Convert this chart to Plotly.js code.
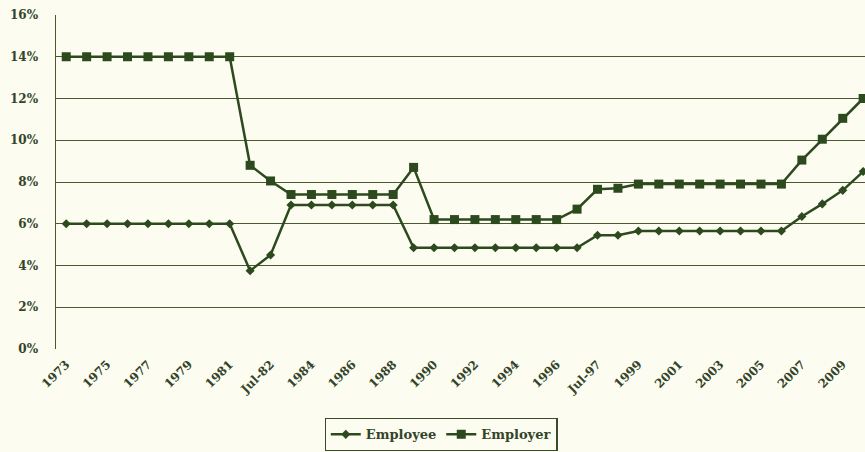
<!DOCTYPE html>
<html>
<head>
<meta charset="utf-8">
<script src="https://cdn.plot.ly/plotly-3.0.1.min.js"></script>
<style>
html,body{margin:0;padding:0;background:#fcfcf0;overflow:hidden;}
#chart{width:865px;height:452px;}
</style>
</head>
<body>
<div id="chart"></div>
<script>
const categories = ["1973","1974","1975","1976","1977","1978","1979","1980","1981","1982","Jul-82","1983","1984","1985","1986","1987","1988","1989","1990","1991","1992","1993","1994","1995","1996","1997","Jul-97","1998","1999","2000","2001","2002","2003","2004","2005","2006","2007","2008","2009","2010"];
const employee = [6,6,6,6,6,6,6,6,6,3.75,4.5,6.9,6.9,6.9,6.9,6.9,6.9,4.85,4.85,4.85,4.85,4.85,4.85,4.85,4.85,4.85,5.45,5.45,5.65,5.65,5.65,5.65,5.65,5.65,5.65,5.65,6.35,6.95,7.6,8.5];
const employer = [14,14,14,14,14,14,14,14,14,8.8,8.05,7.4,7.4,7.4,7.4,7.4,7.4,8.7,6.2,6.2,6.2,6.2,6.2,6.2,6.2,6.7,7.65,7.7,7.9,7.9,7.9,7.9,7.9,7.9,7.9,7.9,9.05,10.05,11.05,12];
const yTicks = [0,2,4,6,8,10,12,14,16];
const yTickText = yTicks.map(v => v + "%");
const xTickVals = categories.filter((c,i) => i % 2 === 0);

const lineColor = "#2c4a1d";
const gridColor = "#4a5930";
const textColor = "#33442a";
const fontFam = "DejaVu Serif, serif";

const traces = [
  {x: categories, y: employee, name: "Employee", type: "scatter", mode: "lines+markers",
   line: {color: lineColor, width: 2.5}, marker: {symbol: "diamond", size: 7, color: lineColor}},
  {x: categories, y: employer, name: "Employer", type: "scatter", mode: "lines+markers",
   line: {color: lineColor, width: 2.5}, marker: {symbol: "square", size: 9, color: lineColor}}
];

const layout = {
  width: 865, height: 452,
  margin: {l: 55.5, r: 0, t: 15, b: 103},
  paper_bgcolor: "#fcfcf0", plot_bgcolor: "#fcfcf0",
  font: {family: fontFam, color: textColor, size: 13, weight: "bold"},
  showlegend: true,
  legend: {orientation: "h", x: 0.476, xanchor: "center", y: -0.306, yanchor: "bottom",
    bordercolor: "#3a4a2a", borderwidth: 1.2, bgcolor: "#fcfcf0",
    font: {family: fontFam, size: 13, color: textColor, weight: "bold"}},
  xaxis: {type: "category", range: [-0.5, 39.09], tickvals: xTickVals, ticktext: xTickVals,
    tickangle: -45, showgrid: false, zeroline: false, showline: false, ticks: "",
    ticklabelstandoff: 5, automargin: false,
    tickfont: {family: fontFam, size: 12, color: textColor, weight: "bold"}},
  yaxis: {range: [0, 16], tickvals: yTicks, ticktext: yTickText, showgrid: true,
    gridcolor: gridColor, gridwidth: 1, zeroline: false, showline: true, linecolor: gridColor,
    linewidth: 1.5, ticks: "", ticklabelstandoff: 14, automargin: false,
    tickfont: {family: fontFam, size: 12, color: textColor, weight: "bold"}}
};

Plotly.newPlot("chart", traces, layout, {displayModeBar: false, staticPlot: true});
</script>
</body>
</html>
